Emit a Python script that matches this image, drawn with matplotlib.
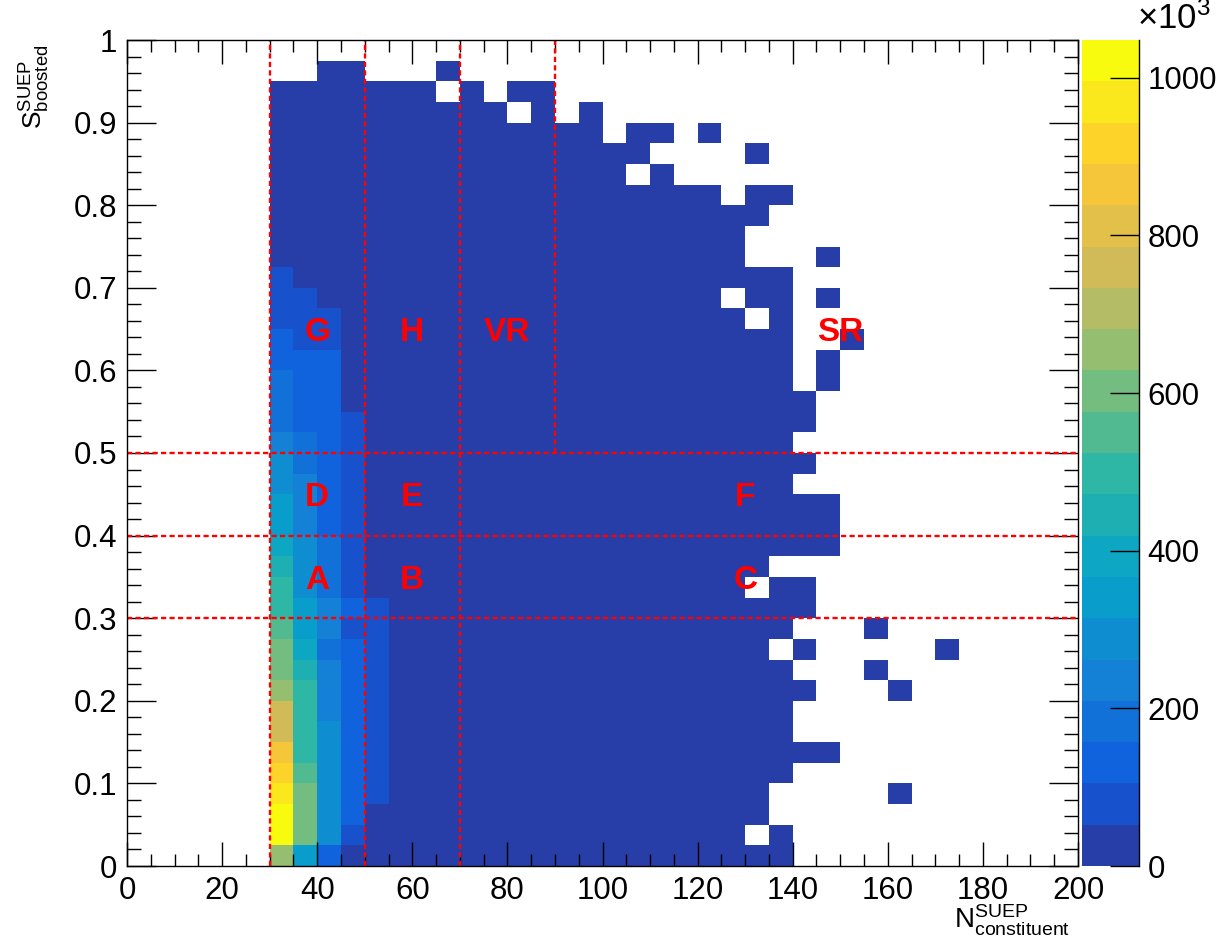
import numpy as np
import matplotlib as mpl
mpl.use('Agg')
import matplotlib.pyplot as plt
from matplotlib.colors import ListedColormap, BoundaryNorm
from matplotlib.ticker import MultipleLocator, FuncFormatter
from matplotlib.transforms import offset_copy

plt.rcParams['font.family'] = ['Liberation Sans', 'DejaVu Sans']
plt.rcParams['mathtext.fontset'] = 'custom'
plt.rcParams['mathtext.rm'] = 'Liberation Sans'
plt.rcParams['mathtext.it'] = 'Liberation Sans:italic'
plt.rcParams['mathtext.bf'] = 'Liberation Sans:bold'

# binning: 40 bins in N (0-200), 40 bins in S (0-1)
x_edges = np.arange(0, 205, 5)
y_edges = np.linspace(0, 1, 41)

# contour band of every bin
# '.' = empty bin, '0'-'9' then 'a'-'j' = band 0-19 (20 bands up to z_max)
# first string = top row (S 0.975-1), comment = lower edge of the row
band_rows = [
    "...... ..... ..... ..... ..... ..... ..... ....",  # 0.975
    "...... ..00. ..0.. ..... ..... ..... ..... ....",  # 0.950
    "...... 00000 00.0. 00... ..... ..... ..... ....",  # 0.925
    "...... 00000 00000 .0.0. ..... ..... ..... ....",  # 0.900
    "...... 00000 00000 0000. 00.0. ..... ..... ....",  # 0.875
    "...... 00000 00000 00000 0.... 0.... ..... ....",  # 0.850
    "...... 00000 00000 00000 .0... ..... ..... ....",  # 0.825
    "...... 00000 00000 00000 0000. 00... ..... ....",  # 0.800
    "...... 00000 00000 00000 00000 0.... ..... ....",  # 0.775
    "...... 00000 00000 00000 00000 ..... ..... ....",  # 0.750
    "...... 00000 00000 00000 00000 ...0. ..... ....",  # 0.725
    "...... 10000 00000 00000 00000 00... ..... ....",  # 0.700
    "...... 11000 00000 00000 0000. 00.0. ..... ....",  # 0.675
    "...... 11100 00000 00000 00000 .0... ..... ....",  # 0.650
    "...... 21100 00000 00000 00000 00..0 ..... ....",  # 0.625
    "...... 22200 00000 00000 00000 00.0. ..... ....",  # 0.600
    "...... 32200 00000 00000 00000 00.0. ..... ....",  # 0.575
    "...... 32200 00000 00000 00000 000.. ..... ....",  # 0.550
    "...... 32210 00000 00000 00000 000.. ..... ....",  # 0.525
    "...... 43210 00000 00000 00000 00... ..... ....",  # 0.500
    "...... 53210 00000 00000 00000 000.. ..... ....",  # 0.475
    "...... 54210 00000 00000 00000 00... ..... ....",  # 0.450
    "...... 64210 00000 00000 00000 0000. ..... ....",  # 0.425
    "...... 64210 00000 00000 00000 0000. ..... ....",  # 0.400
    "...... 75310 00000 00000 00000 0000. ..... ....",  # 0.375
    "...... 85310 00000 00000 00000 0.... ..... ....",  # 0.350
    "...... 95310 00000 00000 00000 .00.. ..... ....",  # 0.325
    "...... 96421 00000 00000 00000 000.. ..... ....",  # 0.300
    "...... a6411 00000 00000 00000 00... 0.... ....",  # 0.275
    "...... b7321 00000 00000 00000 0.0.. ...0. ....",  # 0.250
    "...... b8421 00000 00000 00000 00... 0.... ....",  # 0.225
    "...... c9421 00000 00000 00000 000.. .0... ....",  # 0.200
    "...... e9421 00000 00000 00000 00... ..... ....",  # 0.175
    "...... e9521 00000 00000 00000 00... ..... ....",  # 0.150
    "...... g9521 00000 00000 00000 0000. ..... ....",  # 0.125
    "...... ha521 00000 00000 00000 00... ..... ....",  # 0.100
    "...... ib521 00000 00000 00000 0.... .0... ....",  # 0.075
    "...... jb520 00000 00000 00000 0.... ..... ....",  # 0.050
    "...... jb510 00000 00000 00000 .0... ..... ....",  # 0.025
    "...... c6200 00000 00000 00000 00... ..... ....",  # 0.000
]
band_chars = "0123456789abcdefghij"
z_max = 1048.0   # x10^3
n_bands = 20

# region boundaries and labels
v_lines = [(30, 0.0, 1.0), (50, 0.0, 1.0), (70, 0.0, 1.0), (90, 0.5, 1.0)]
h_lines = [0.3, 0.4, 0.5]
region_labels = [("G", 40, 0.65), ("H", 60, 0.65), ("VR", 80, 0.65), ("SR", 150, 0.65),
                 ("D", 40, 0.45), ("E", 60, 0.45), ("F", 130, 0.45),
                 ("A", 40, 0.35), ("B", 60, 0.35), ("C", 130, 0.35)]

# decode the band map
bands = np.array([[band_chars.find(c) for c in r.replace(" ", "")] for r in band_rows])
bands = np.flipud(bands)
counts = np.where(bands >= 0, (bands + 0.5) * z_max / n_bands, np.nan)
counts = np.ma.masked_invalid(counts)

# ROOT kBird palette, 20 contour colours
stops = [0.0, 0.125, 0.25, 0.375, 0.5, 0.625, 0.75, 0.875, 1.0]
red = [0.2082, 0.0592, 0.0780, 0.0232, 0.1802, 0.5301, 0.8186, 0.9956, 0.9764]
green = [0.1664, 0.3599, 0.5041, 0.6419, 0.7178, 0.7492, 0.7328, 0.7862, 0.9832]
blue = [0.5293, 0.8684, 0.8385, 0.7914, 0.6425, 0.4662, 0.3499, 0.1968, 0.0539]
cols = []
for i in range(n_bands):
    t = int((i + 0.99) * 255 / n_bands) / 254
    cols.append((np.interp(t, stops, red), np.interp(t, stops, green), np.interp(t, stops, blue)))
cmap = ListedColormap(cols)
norm = BoundaryNorm(np.linspace(0, z_max, n_bands + 1), n_bands)

W, H = 1223, 952
fig = plt.figure(figsize=(W / 100, H / 100), dpi=100)
ax = fig.add_axes([127 / W, 86 / H, 951 / W, 826 / H])

mesh = ax.pcolormesh(x_edges, y_edges, counts, cmap=cmap, norm=norm, linewidth=0)

for x, y0, y1 in v_lines:
    ax.plot([x, x], [y0, y1], color='#ff0000', lw=1.7, ls=(0, (2.2, 1.4)))
for y in h_lines:
    ax.plot([0, 200], [y, y], color='#ff0000', lw=1.7, ls=(0, (2.2, 1.4)))

lab_tr = offset_copy(ax.transData, fig=fig, y=-8.6, units='points')
for txt, x, y in region_labels:
    ax.text(x, y, txt, color='#ff0000', fontsize=24, fontweight='bold',
            ha='center', va='baseline', transform=lab_tr)

ax.set_xlim(0, 200)
ax.set_ylim(0, 1)
ax.xaxis.set_major_locator(MultipleLocator(20))
ax.xaxis.set_minor_locator(MultipleLocator(5))
ax.yaxis.set_major_locator(MultipleLocator(0.1))
ax.yaxis.set_minor_locator(MultipleLocator(0.02))
ax.yaxis.set_major_formatter(FuncFormatter(lambda v, p: f"{round(v, 2):g}"))
ax.tick_params(which='both', direction='in', top=True, right=True, width=1.0)
ax.tick_params(axis='x', which='major', length=17, labelsize=22.5, pad=7)
ax.tick_params(axis='x', which='minor', length=8.6)
ax.tick_params(axis='y', which='major', length=21, labelsize=22.5, pad=7)
ax.tick_params(axis='y', which='minor', length=10)
for s in ax.spines.values():
    s.set_linewidth(1.0)

fig.text(35 / W, 1 - 45 / H, r'$\mathregular{S^{SUEP}_{boosted}}$', rotation=90,
         fontsize=19, ha='center', va='top')
fig.text(1070 / W, 1 - 903 / H, r'$\mathregular{N^{SUEP}_{constituent}}$',
         fontsize=20, ha='right', va='top')

# palette axis
cax = fig.add_axes([1082 / W, 86 / H, 57 / W, 826 / H])
cb = fig.colorbar(mesh, cax=cax, ticks=np.arange(0, 1001, 200))
cb.outline.set_visible(False)
cax.minorticks_off()
cax.tick_params(direction='in', length=21, width=1.0, labelsize=22.5, pad=6)
cax.plot([1, 1], [0, 1], transform=cax.transAxes, color='black', lw=1.0, clip_on=False)
fig.text(1137 / W, 1 - 36 / H, r'$\mathregular{\times10^{3}}$', fontsize=25,
         ha='left', va='bottom')

fig.savefig('out.png', dpi=100)
